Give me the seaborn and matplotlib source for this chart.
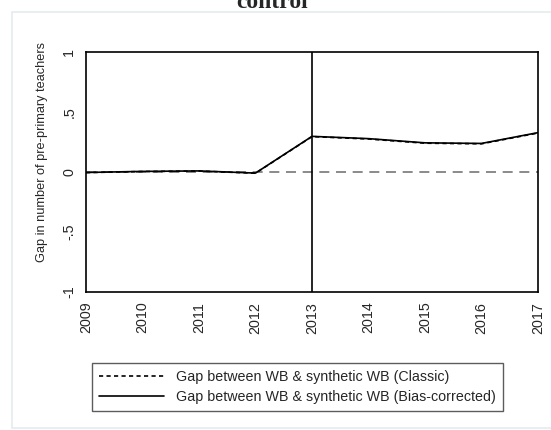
import numpy as np
import pandas as pd
import matplotlib
matplotlib.use("Agg")
import matplotlib.pyplot as plt
import seaborn as sns
from matplotlib.patches import Rectangle

years=[2009,2010,2011,2012,2013,2014,2015,2016,2017]
gap_classic=[-0.005,0.004,0.008,-0.01,0.295,0.275,0.24,0.235,0.325]
gap_bias=[-0.004,0.005,0.009,-0.009,0.297,0.278,0.243,0.238,0.328]
yticks=[-1,-0.5,0,0.5,1]
ytick_labels=["-1","-.5","0",".5","1"]
label_classic="Gap between WB & synthetic WB (Classic)"
label_bias="Gap between WB & synthetic WB (Bias-corrected)"

sns.set_style("white")
plt.rcParams["font.family"]=["Liberation Sans","DejaVu Sans"]

df=pd.DataFrame({"year":years,"classic":gap_classic,"bias":gap_bias})

fig=plt.figure(figsize=(5.51,4.30),dpi=100)
fig.patches.append(Rectangle((12/551,2/430),540/551,416/430,transform=fig.transFigure,
                             fill=False,edgecolor="#e4ecee",linewidth=1.2))
ax=fig.add_axes([86/551,138/430,452/551,240/430])

sns.lineplot(data=df,x="year",y="bias",ax=ax,color="black",linewidth=1.2,label=label_bias)
sns.lineplot(data=df,x="year",y="classic",ax=ax,color="black",linewidth=1.2,linestyle=(0,(2.5,2)),label=label_classic)
ax.axhline(0,color="#777777",linewidth=1.2,linestyle=(0,(6,4)),zorder=0)
ax.axvline(2013,color="black",linewidth=1.2)

ax.set_xlim(2009,2017)
ax.set_ylim(-1,1)
ax.set_xticks(years)
ax.set_xticklabels([str(y) for y in years],rotation=90,fontsize=10.3)
ax.set_yticks(yticks)
ax.set_yticklabels(ytick_labels,rotation=90,va="center",fontsize=10.3)
ax.set_xlabel("")
ax.set_ylabel("Gap in number of pre-primary teachers",fontsize=9.2)
ax.yaxis.set_label_coords(-0.084,0.583)
ax.tick_params(axis="both",direction="out",length=5,width=1,color="#555555",pad=2)
for s in ax.spines.values():
    s.set_color("black")
    s.set_linewidth(1.2)

h,l=ax.get_legend_handles_labels()
ax.legend([h[1],h[0]],[l[1],l[0]],loc="center",bbox_to_anchor=(297.5/551,43/430),
          bbox_transform=fig.transFigure,fontsize=10.3,frameon=True,fancybox=False,
          edgecolor="#333333",handlelength=4.5,borderpad=0.5,labelspacing=0.45,handletextpad=0.85)
ax.get_legend().get_frame().set_linewidth(1.0)

fig.text(272/551,1-8/430,"control",ha="center",va="baseline",fontsize=17,fontweight="bold",
         family="Liberation Serif")

fig.savefig("out.png",dpi=100)
